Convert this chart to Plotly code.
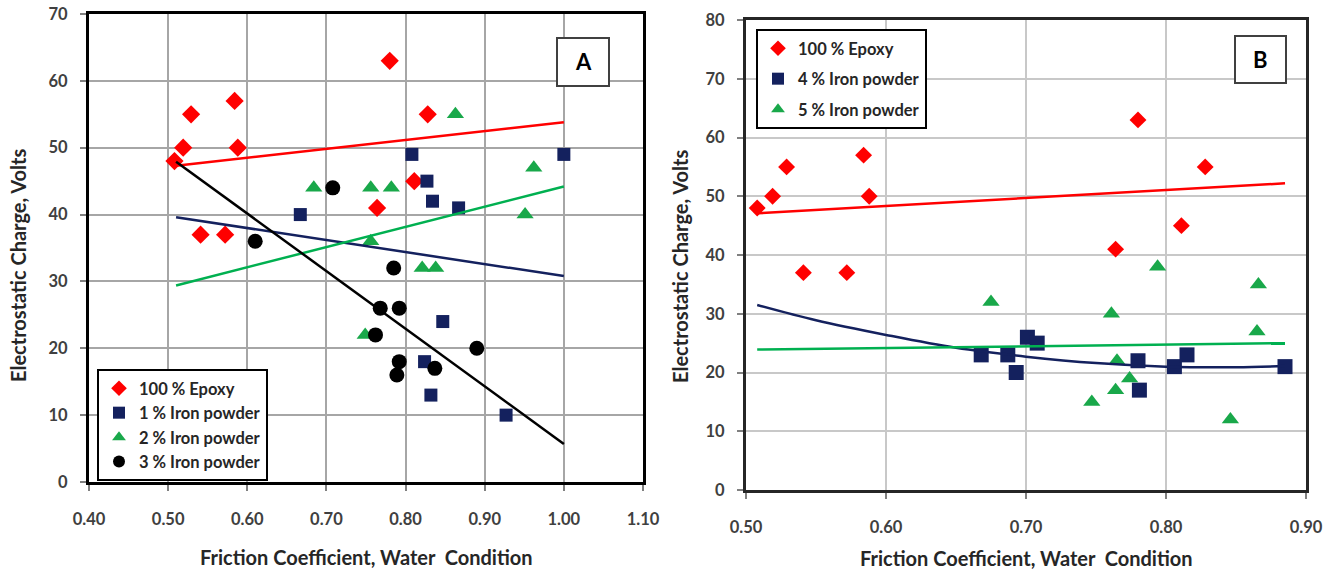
import plotly.graph_objects as go

W, H = 1338, 573

# ---------------- Panel A data ----------------
epoxy_x = [0.508, 0.519, 0.529, 0.541, 0.572, 0.584, 0.588, 0.764, 0.780, 0.811, 0.828]
epoxy_y = [48, 50, 55, 37, 37, 57, 50, 41, 63, 45, 55]

fe1_x = [0.667, 0.808, 0.827, 0.834, 0.867, 1.000, 0.847, 0.824, 0.832, 0.927]
fe1_y = [40, 49, 45, 42, 41, 49, 24, 18, 13, 10]

fe2_x = [0.684, 0.756, 0.782, 0.863, 0.962, 0.951, 0.756, 0.821, 0.838, 0.749]
fe2_y = [44, 44, 44, 55, 47, 40, 36, 32, 32, 22]

fe3_x = [0.610, 0.708, 0.785, 0.768, 0.792, 0.762, 0.792, 0.789, 0.837, 0.890]
fe3_y = [36, 44, 32, 26, 26, 22, 18, 16, 17, 20]

trend_x_A = [0.51, 1.00]
trend_A_epoxy = [47.3, 53.8]
trend_A_fe1 = [39.6, 30.8]
trend_A_fe2 = [29.4, 44.2]
trend_A_fe3 = [47.9, 5.7]

# ---------------- Panel B data ----------------
fe4_x = [0.668, 0.687, 0.693, 0.701, 0.708, 0.780, 0.781, 0.806, 0.815, 0.885]
fe4_y = [23, 23, 20, 26, 25, 22, 17, 21, 23, 21]

fe5_x = [0.675, 0.761, 0.765, 0.774, 0.764, 0.747, 0.794, 0.866, 0.865, 0.846]
fe5_y = [32, 30, 22, 19, 17, 15, 38, 35, 27, 12]

trend_x_B = [0.508, 0.885]
trend_B_epoxy = [47.1, 52.2]
trend_B_fe5 = [23.9, 25.0]
curve_x_B = [0.508, 0.55, 0.60, 0.65, 0.70, 0.75, 0.80, 0.85, 0.885]
curve_B_fe4 = [31.5, 28.9, 26.4, 24.2, 22.7, 21.6, 21.0, 20.9, 21.1]

RED = "#ff0000"
NAVY = "#14215e"
GREEN = "#19a84a"
LGREEN = "#00b050"
BLACK = "#000000"
FONT = "Lato"

fig = go.Figure()

def pts(x, y, name, sym, color, size, xa, ya, legend):
    fig.add_trace(go.Scatter(x=x, y=y, mode="markers", name=name, legendgroup=name + xa,
                             marker=dict(symbol=sym, color=color, size=size, line=dict(width=0)),
                             xaxis=xa, yaxis=ya, legend=legend))

def line(x, y, color, xa, ya, shape="linear"):
    fig.add_trace(go.Scatter(x=x, y=y, mode="lines", showlegend=False, hoverinfo="skip",
                             line=dict(color=color, width=2.5, shape=shape),
                             xaxis=xa, yaxis=ya))

# Panel A
pts(epoxy_x, epoxy_y, "100 % Epoxy", "diamond", RED, 14, "x", "y", "legend")
pts(fe1_x, fe1_y, "1 % Iron powder", "square", NAVY, 13, "x", "y", "legend")
pts(fe2_x, fe2_y, "2 % Iron powder", "triangle-up", GREEN, 15, "x", "y", "legend")
pts(fe3_x, fe3_y, "3 % Iron powder", "circle", BLACK, 15, "x", "y", "legend")
line(trend_x_A, trend_A_epoxy, RED, "x", "y")
line(trend_x_A, trend_A_fe1, NAVY, "x", "y")
line(trend_x_A, trend_A_fe2, LGREEN, "x", "y")
line(trend_x_A, trend_A_fe3, BLACK, "x", "y")

# Panel B
pts(epoxy_x, epoxy_y, "100 % Epoxy", "diamond", RED, 13, "x2", "y2", "legend2")
pts(fe4_x, fe4_y, "4 % Iron powder", "square", NAVY, 15, "x2", "y2", "legend2")
pts(fe5_x, fe5_y, "5 % Iron powder", "triangle-up", GREEN, 15, "x2", "y2", "legend2")
line(trend_x_B, trend_B_epoxy, RED, "x2", "y2")
line(curve_x_B, curve_B_fe4, NAVY, "x2", "y2", "spline")
line(trend_x_B, trend_B_fe5, LGREEN, "x2", "y2")

tickfont = dict(family=FONT, size=16.5, color="#404040", weight="bold")

def xaxis(dom, rng, grid, lc, anchor):
    return dict(domain=dom, range=rng, dtick=0.1, tick0=0, tickformat=".2f", anchor=anchor,
                showgrid=True, gridcolor=grid, gridwidth=1.5,
                showline=True, linecolor=lc, linewidth=3, mirror=True,
                ticks="outside", ticklen=6, tickwidth=1.5, tickcolor="#808080",
                tickfont=tickfont, zeroline=False, automargin=False,
                ticklabelstandoff=14)

def yaxis(dom, rng, grid, lc, anchor):
    return dict(domain=dom, range=rng, dtick=10, tick0=0, anchor=anchor,
                showgrid=True, gridcolor=grid, gridwidth=1.5,
                showline=True, linecolor=lc, linewidth=3, mirror=True,
                ticks="outside", ticklen=6, tickwidth=1.5, tickcolor="#808080",
                tickfont=tickfont, zeroline=False, automargin=False,
                ticklabelstandoff=9)

xA = [89 / W, 643 / W]
yA = [1 - 482 / H, 1 - 14 / H]
xB = [746 / W, 1306 / W]
yB = [1 - 490 / H, 1 - 20 / H]

legfont = dict(family=FONT, size=16.5, color="#262626", weight="bold")

fig.update_layout(
    width=W, height=H, margin=dict(l=0, r=0, t=0, b=0),
    paper_bgcolor="white", plot_bgcolor="white",
    font=dict(family=FONT),
    xaxis=xaxis(xA, [0.4, 1.1], "#a6a6a6", "#000000", "y"),
    yaxis=yaxis(yA, [0, 70], "#a6a6a6", "#000000", "x"),
    xaxis2=xaxis(xB, [0.5, 0.9], "#c8c8c8", "#262626", "y2"),
    yaxis2=yaxis(yB, [0, 80], "#c8c8c8", "#262626", "x2"),
    legend=dict(x=97 / W, y=1 - 369 / H, xanchor="left", yanchor="top",
                bgcolor="white", bordercolor="#000000", borderwidth=2,
                font=legfont, itemsizing="constant", tracegroupgap=0,
                itemwidth=30),
    legend2=dict(x=756 / W, y=1 - 29 / H, xanchor="left", yanchor="top",
                 bgcolor="white", bordercolor="#000000", borderwidth=2,
                 font=legfont, itemsizing="constant", tracegroupgap=6,
                 itemwidth=30),
    showlegend=True,
)

titlefont = dict(family=FONT, size=20, color="#262626", weight="bold")
xtitle = "Friction Coefficient, Water\u00a0 Condition"
ytitle = "Electrostatic Charge, Volts"
ann = [
    dict(text=xtitle, x=366 / W, y=1 - 557 / H),
    dict(text=xtitle, x=1026 / W, y=1 - 558 / H),
    dict(text=ytitle, x=18 / W, y=1 - 265 / H, textangle=-90),
    dict(text=ytitle, x=680 / W, y=1 - 266 / H, textangle=-90),
]
for a in ann:
    fig.add_annotation(xref="paper", yref="paper", showarrow=False,
                       xanchor="center", yanchor="middle", font=titlefont, **a)

# Panel label boxes
for lab, (x0, y0, x1, y1) in [("A", (557, 38, 609, 86)), ("B", (1235, 36, 1286, 83))]:
    fig.add_shape(type="rect", xref="paper", yref="paper",
                  x0=x0 / W, x1=x1 / W, y0=1 - y1 / H, y1=1 - y0 / H,
                  line=dict(color="#404040", width=2), fillcolor="white")
    fig.add_annotation(xref="paper", yref="paper", showarrow=False,
                       xanchor="center", yanchor="middle",
                       x=(x0 + x1) / 2 / W, y=1 - (y0 + y1) / 2 / H,
                       text=lab, font=dict(family=FONT, size=22, color="#000000", weight="bold"))

fig.write_html("out.html")
